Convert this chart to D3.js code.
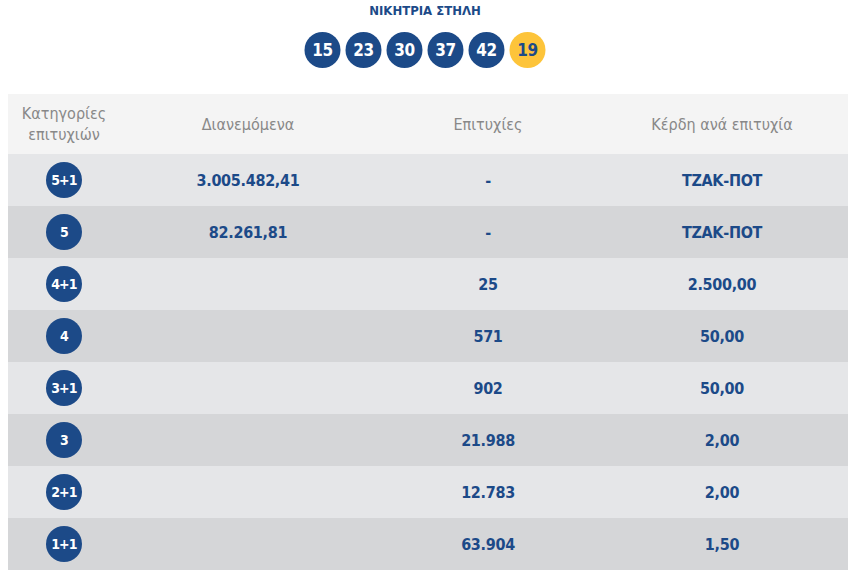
<!DOCTYPE html><html><head><meta charset="utf-8"><script src="https://cdn.jsdelivr.net/npm/d3@7"></script>
<style>body{margin:0;background:#fff}svg{display:block}text{font-family:"Liberation Sans Narrow","DejaVu Sans Condensed","Roboto",sans-serif}</style></head><body>
<svg id="c" width="854" height="576"></svg>
<script>
const numbers=[15,23,30,37,42];
const joker=[19];
const headers=["Κατηγορίες|επιτυχιών","Διανεμόμενα","Επιτυχίες","Κέρδη ανά επιτυχία"];
const categories=["5+1","5","4+1","4","3+1","3","2+1","1+1"];
const distributed=["3.005.482,41","82.261,81","","","","","",""];
const winners=["-","-","25","571","902","21.988","12.783","63.904"];
const prizes=["ΤΖΑΚ-ΠΟΤ","ΤΖΑΚ-ΠΟΤ","2.500,00","50,00","50,00","2,00","2,00","1,50"];
const svg=d3.select("#c");
const blue="#1c4a88";
svg.append("text").attr("x",425).attr("y",15).attr("text-anchor","middle").attr("fill",blue).attr("font-weight","bold").attr("font-size",13).text("ΝΙΚΗΤΡΙΑ ΣΤΗΛΗ");
const balls=numbers.map(n=>({n,c:blue,t:"#fff"})).concat(joker.map(n=>({n,c:"#fdc43a",t:blue})));
const bx=d3.scaleBand().domain(d3.range(balls.length)).range([302,548]);
const bg=svg.selectAll("g.b").data(balls).join("g").attr("transform",(d,i)=>`translate(${bx(i)+bx.bandwidth()/2},50)`);
bg.append("circle").attr("r",18).attr("fill",d=>d.c);
bg.append("text").attr("text-anchor","middle").attr("dy","0.36em").attr("fill",d=>d.t).attr("font-weight","bold").attr("font-size",17).attr("letter-spacing",-0.5).text(d=>d.n);
const colX=[64,248,488,722];
svg.append("rect").attr("x",8).attr("y",94).attr("width",840).attr("height",60).attr("fill","#f4f4f4");
headers.forEach((h,i)=>{const parts=h.split("|");const t=svg.append("text").attr("x",colX[i]).attr("text-anchor","middle").attr("fill","#888").attr("font-size",16);
parts.forEach((p,j)=>t.append("tspan").attr("x",colX[i]).attr("y",parts.length>1?119+j*21:130).text(p));});
const y=d3.scaleBand().domain(categories).range([154,570]);
const rows=svg.selectAll("g.r").data(categories).join("g").attr("transform",d=>`translate(0,${y(d)})`);
rows.append("rect").attr("x",8).attr("width",840).attr("height",y.bandwidth()).attr("fill",(d,i)=>i%2?"#d5d6d8":"#e5e6e8");
const h=y.bandwidth()/2;
rows.append("circle").attr("cx",colX[0]).attr("cy",h).attr("r",18).attr("fill",blue);
rows.append("text").attr("x",colX[0]).attr("y",h).attr("dy","0.36em").attr("text-anchor","middle").attr("fill","#fff").attr("font-weight","bold").attr("font-size",14).attr("letter-spacing",-0.8).text(d=>d);
[distributed,winners,prizes].forEach((arr,k)=>{rows.append("text").attr("x",colX[k+1]).attr("y",h).attr("dy","0.36em").attr("text-anchor","middle").attr("fill",blue).attr("font-weight","bold").attr("font-size",16).attr("letter-spacing",-0.3).text((d,i)=>arr[i]);});
</script></body></html>
